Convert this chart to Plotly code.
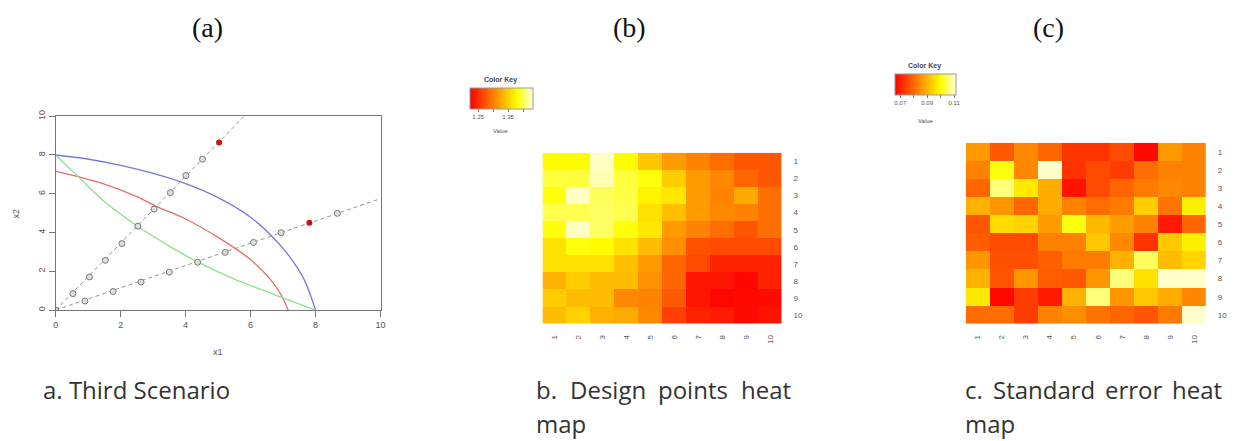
import plotly.graph_objects as go

W, H = 1234, 441
def px(x): return x / W
def py(y): return 1 - y / H

# ---------------- Panel (a) data ----------------
blue_x = [0, 1.02, 2.04, 3.06, 4.0, 5.0, 6.0, 6.68, 7.24, 7.65, 8.0]
blue_y = [8.0, 7.78, 7.45, 7.02, 6.52, 5.8, 4.79, 3.77, 2.67, 1.57, 0.0]
red_x = [0, 0.7, 1.5, 2.5, 3.1, 4.0, 5.0, 6.0, 6.6, 6.9, 7.16]
red_y = [7.16, 6.88, 6.5, 5.85, 5.35, 4.7, 3.75, 2.6, 1.6, 0.9, 0.0]
green_x = [0, 0.7, 1.5, 2.5, 3.5, 4.35, 5.5, 6.5, 7.2, 8.0]
green_y = [8.0, 6.87, 5.6, 4.35, 3.3, 2.5, 1.6, 0.95, 0.5, 0.0]
ray1_x = [0, 5.8]
ray1_y = [0, 10]
ray2_x = [0, 10]
ray2_y = [0, 5.75]
pts1_x = [0, 0.53, 1.04, 1.53, 2.04, 2.53, 3.03, 3.53, 4.01, 4.52]
pts1_y = [0, 0.85, 1.71, 2.57, 3.43, 4.33, 5.21, 6.06, 6.94, 7.78]
pts2_x = [0, 0.9, 1.77, 2.63, 3.5, 4.37, 5.22, 6.09, 6.94, 8.67]
pts2_y = [0, 0.47, 0.96, 1.45, 1.96, 2.47, 2.98, 3.49, 3.99, 4.99]
redpt_x = [5.03, 7.81]
redpt_y = [8.65, 4.5]
a_ticks = [0, 2, 4, 6, 8, 10]

# ---------------- Heatmap data ----------------
labels = [str(i) for i in range(1, 11)]
design = [
    [1.378, 1.378, 1.427, 1.378, 1.345, 1.318, 1.303, 1.290, 1.276, 1.276],
    [1.395, 1.395, 1.423, 1.395, 1.383, 1.349, 1.318, 1.307, 1.286, 1.276],
    [1.383, 1.427, 1.402, 1.397, 1.374, 1.366, 1.318, 1.303, 1.328, 1.292],
    [1.399, 1.399, 1.404, 1.399, 1.362, 1.341, 1.318, 1.307, 1.303, 1.292],
    [1.383, 1.427, 1.404, 1.383, 1.366, 1.318, 1.303, 1.290, 1.276, 1.292],
    [1.362, 1.383, 1.378, 1.362, 1.339, 1.311, 1.273, 1.269, 1.269, 1.269],
    [1.362, 1.362, 1.362, 1.341, 1.318, 1.286, 1.269, 1.244, 1.244, 1.244],
    [1.332, 1.349, 1.339, 1.339, 1.311, 1.286, 1.236, 1.236, 1.227, 1.244],
    [1.349, 1.339, 1.339, 1.307, 1.303, 1.278, 1.236, 1.227, 1.229, 1.229],
    [1.339, 1.353, 1.332, 1.328, 1.307, 1.261, 1.244, 1.240, 1.229, 1.234],
]
stderr = [
    [0.0867, 0.0780, 0.0844, 0.0798, 0.0734, 0.0734, 0.0761, 0.0674, 0.0867, 0.0835],
    [0.0835, 0.1010, 0.0844, 0.1106, 0.0729, 0.0761, 0.0743, 0.0807, 0.0835, 0.0835],
    [0.0798, 0.1065, 0.0973, 0.0890, 0.0688, 0.0761, 0.0798, 0.0826, 0.0844, 0.0835],
    [0.0899, 0.0862, 0.0798, 0.0890, 0.0835, 0.0807, 0.0826, 0.0936, 0.0816, 0.0982],
    [0.0775, 0.0954, 0.0945, 0.0872, 0.1010, 0.0908, 0.0872, 0.0835, 0.0697, 0.0798],
    [0.0784, 0.0761, 0.0761, 0.0835, 0.0835, 0.0927, 0.0844, 0.0729, 0.0927, 0.0982],
    [0.0862, 0.0770, 0.0770, 0.0789, 0.0826, 0.0826, 0.0899, 0.1051, 0.0913, 0.0945],
    [0.0899, 0.0775, 0.0862, 0.0784, 0.0780, 0.0862, 0.1065, 0.0964, 0.1106, 0.1106],
    [0.0973, 0.0674, 0.0743, 0.0697, 0.0899, 0.1065, 0.0862, 0.0927, 0.0890, 0.0844],
    [0.0807, 0.0807, 0.0743, 0.0835, 0.0853, 0.0816, 0.0798, 0.0775, 0.0826, 0.1106],
]
design_range = [1.223, 1.433]
design_key_ticks = [1.25, 1.30, 1.35, 1.40]
design_key_text = ["1.25", "", "1.35", ""]
stderr_range = [0.0663, 0.1115]
stderr_key_ticks = [0.07, 0.08, 0.09, 0.10, 0.11]
stderr_key_text = ["0.07", "", "0.09", "", "0.11"]

heat = [[0, "#FF0000"], [0.75, "#FFFF00"], [1, "#FFFFDD"]]

fig = go.Figure()

# ----- panel (a) -----
dash_col = "#8c9c8c"
for xs, ys in ((ray1_x, ray1_y), (ray2_x, ray2_y)):
    fig.add_trace(go.Scatter(x=xs, y=ys, mode="lines",
                             line=dict(color=dash_col, width=1, dash="4px,3px"),
                             xaxis="x", yaxis="y"))
fig.add_trace(go.Scatter(x=blue_x, y=blue_y, mode="lines", line_shape="spline",
                         line=dict(color="#7878dc", width=1.3), xaxis="x", yaxis="y"))
fig.add_trace(go.Scatter(x=red_x, y=red_y, mode="lines", line_shape="spline",
                         line=dict(color="#e07070", width=1.3), xaxis="x", yaxis="y"))
fig.add_trace(go.Scatter(x=green_x, y=green_y, mode="lines", line_shape="spline",
                         line=dict(color="#8ddf8d", width=1.3), xaxis="x", yaxis="y"))
for xs, ys in ((pts1_x, pts1_y), (pts2_x, pts2_y)):
    fig.add_trace(go.Scatter(x=xs, y=ys, mode="markers",
                             marker=dict(symbol="circle", size=6, color="#dddddd",
                                         line=dict(width=1, color="#7a7a7a")),
                             xaxis="x", yaxis="y"))
fig.add_trace(go.Scatter(x=redpt_x, y=redpt_y, mode="markers",
                         marker=dict(symbol="circle", size=6, color="#cc1111"),
                         xaxis="x", yaxis="y"))

# ----- heatmaps -----
def key(x0, y0, length, ticks, text):
    return dict(orientation="h", xref="paper", yref="paper",
                x=px(x0), xanchor="left", y=py(y0), yanchor="top",
                lenmode="pixels", len=length, thickness=21,
                xpad=0, ypad=0, outlinewidth=1, outlinecolor="#999999",
                ticks="outside", ticklen=3, tickcolor="#777777",
                tickvals=ticks, ticktext=text,
                tickfont=dict(size=6, color="#555555", family="Liberation Sans"))

fig.add_trace(go.Heatmap(z=design, x=labels, y=labels, colorscale=heat,
                         zmin=design_range[0], zmax=design_range[1], xaxis="x2", yaxis="y2",
                         colorbar=key(470, 83, 63, design_key_ticks, design_key_text)))
fig.add_trace(go.Heatmap(z=stderr, x=labels, y=labels, colorscale=heat,
                         zmin=stderr_range[0], zmax=stderr_range[1], xaxis="x3", yaxis="y3",
                         colorbar=key(898, 69, 61, stderr_key_ticks, stderr_key_text)))

axis_font = dict(size=9, color="#555555", family="Liberation Sans")
heat_font = dict(size=8, color="#555555", family="Liberation Sans")

def heat_x(d0, d1, anchor):
    return dict(domain=[px(d0), px(d1)], anchor=anchor, type="category", showgrid=False,
                zeroline=False, showline=False, ticks="outside", ticklen=7,
                tickcolor="rgba(0,0,0,0)", tickangle=-90, tickfont=heat_font)

def heat_y(top, bottom, anchor):
    return dict(domain=[py(bottom), py(top)], anchor=anchor, type="category",
                autorange="reversed", side="right", showgrid=False, zeroline=False,
                showline=False, ticks="outside", ticklen=9, tickcolor="rgba(0,0,0,0)",
                tickfont=heat_font)

fig.update_layout(
    width=W, height=H, margin=dict(l=0, r=0, t=0, b=0),
    paper_bgcolor="white", plot_bgcolor="white", showlegend=False,
    xaxis=dict(domain=[px(53), px(380)], anchor="y", range=[0, 10], tickvals=a_ticks,
               showgrid=False, zeroline=False, showline=True, mirror=True,
               linecolor="#777777", linewidth=1, ticks="outside", ticklen=6,
               tickcolor="#777777", tickfont=axis_font),
    yaxis=dict(domain=[py(309), py(112)], anchor="x", range=[0, 10], tickvals=a_ticks,
               showgrid=False, zeroline=False, showline=True, mirror=True,
               linecolor="#777777", linewidth=1, ticks="outside", ticklen=6,
               tickcolor="#777777", tickfont=axis_font, tickangle=-90),
    xaxis2=heat_x(543, 784, "y2"),
    yaxis2=heat_y(149, 323, "x2"),
    xaxis3=heat_x(969, 1211, "y3"),
    yaxis3=heat_y(139, 323, "x3"),
)

ann = []
def add_text(text, x, y, size, color="#333333", family="Open Sans", xanchor="center",
             angle=0):
    ann.append(dict(text=text, x=px(x), y=py(y), xref="paper", yref="paper",
                    showarrow=False, xanchor=xanchor, yanchor="middle", textangle=angle,
                    borderpad=0, font=dict(size=size, color=color, family=family)))

# panel titles
add_text("(a)", 206, 22, 28, "#111111", "Liberation Serif")
add_text("(b)", 631, 22, 28, "#111111", "Liberation Serif")
add_text("(c)", 1052, 22, 28, "#111111", "Liberation Serif")
# axis titles panel (a)
add_text("x1", 216, 352, 9, "#555555", "Liberation Sans")
add_text("x2", 13, 211, 9, "#555555", "Liberation Sans", angle=-90)
# colour keys
add_text("<b>Color Key</b>", 501, 75, 7, "#444444", "Liberation Sans")
add_text("Value", 501, 127, 6, "#555555", "Liberation Sans")
add_text("<b>Color Key</b>", 928, 61, 7, "#444444", "Liberation Sans")
add_text("Value", 929, 117, 6, "#555555", "Liberation Sans")
# captions (justified words placed by their centres)
cap = 24
add_text("a. Third Scenario", 134, 390, cap)
add_text("b.", 547, 390, cap)
add_text("Design", 609, 390, cap)
add_text("points", 695, 390, cap)
add_text("heat", 768, 390, cap)
add_text("map", 562, 424, cap)
add_text("c.", 977, 390, cap)
add_text("Standard", 1048, 390, cap)
add_text("error", 1138, 390, cap)
add_text("heat", 1202, 390, cap)
add_text("map", 993, 424, cap)

fig.update_layout(annotations=ann)
fig.write_html("out.html")
